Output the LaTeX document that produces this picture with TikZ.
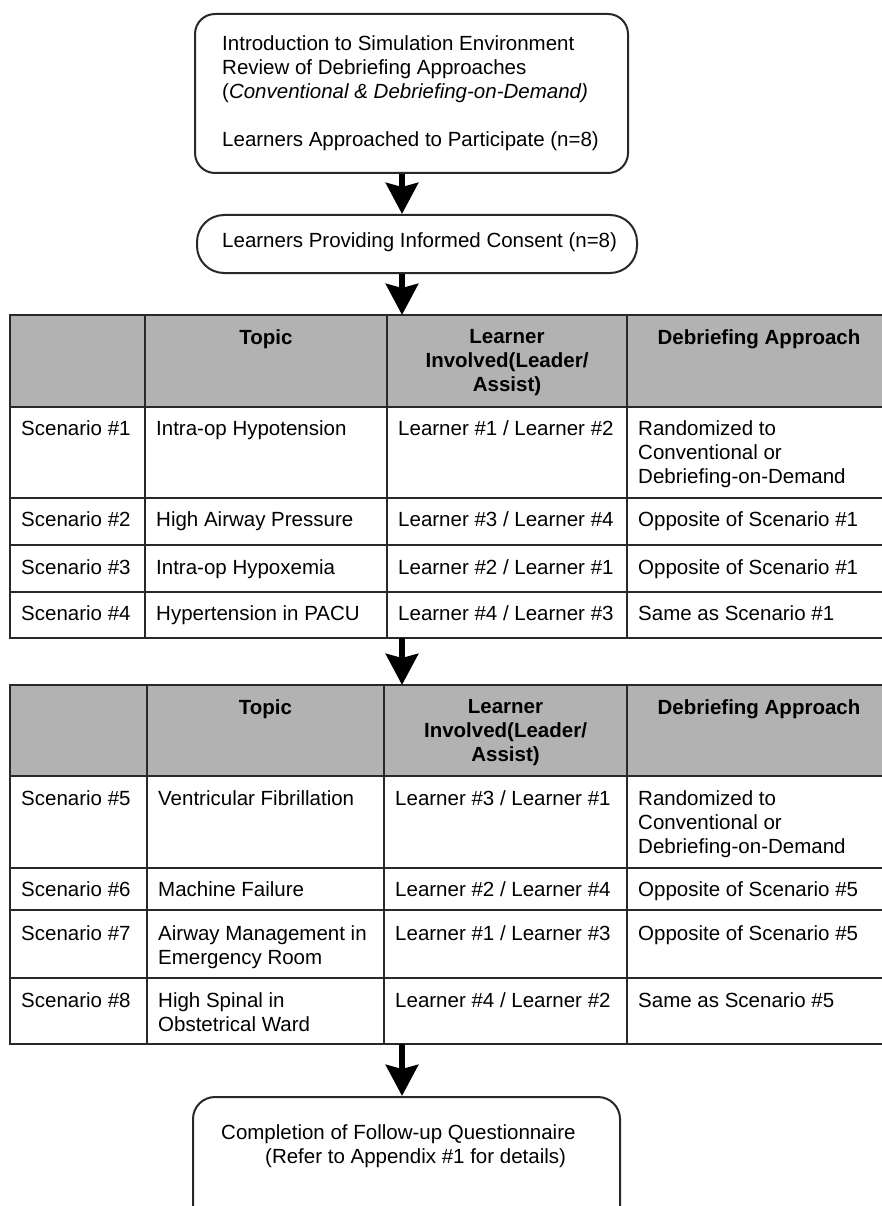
\documentclass[tikz,border=0pt]{standalone}
\usepackage{fontspec}
\setmainfont{Liberation Sans}
\usetikzlibrary{arrows.meta}
\definecolor{hdrgray}{RGB}{178,178,178}
\definecolor{linegray}{RGB}{40,40,40}
\begin{document}
\begin{tikzpicture}[x=1pt,y=-1pt,
  txt/.style={inner sep=0pt, text=black, font=\fontsize{20.5}{24}\selectfont},
  lt/.style={txt, anchor=north west, align=left},
  hd/.style={txt, anchor=north, align=center, font=\fontsize{20.5}{24}\selectfont\bfseries},
  rbox/.style={draw=linegray, line width=2pt, fill=white, inner sep=0pt},
  grid/.style={draw=linegray, line width=2.5pt, line cap=rect},
  frame/.style={inner sep=0pt, anchor=north west},
  flow/.style={line width=6.5pt, -{Stealth[length=31pt,width=32pt,inset=4pt]}},
]
\clip (0,0) rectangle (882,1206);
\fill[white] (0,0) rectangle (882,1206);
\coordinate (spine) at (402,0);

% ---------- top boxes ----------
\node[rbox, rounded corners=20pt, minimum width=433pt, minimum height=159pt] (intro) at (411.5,93.5) {};
\node[lt] (introtxt) at (222,35) {Introduction to Simulation Environment\\
Review of Debriefing Approaches\\
(\textit{Conventional \& Debriefing-on-Demand)}\\[24pt]
Learners Approached to Participate (n=8)};

\node[rbox, rounded corners=27pt, minimum width=440pt, minimum height=58pt] (consent) at (417,244) {};
\node[lt] (consenttxt) at (222,232) {Learners Providing Informed Consent (n=8)};

% ---------- table 1 ----------
\node[frame, minimum width=881pt, minimum height=323pt] (tab1) at (10,315) {};
\fill[hdrgray] (10,315) rectangle (891,407);
\foreach \y in {315,407,498,545,592,638} \draw[grid] (10,\y) -- (891,\y);
\foreach \x in {10,145,387,627} \draw[grid] (\x,315) -- (\x,638);

\node[hd] (h1a) at (266,329) {Topic};
\node[hd] (h1b) at (507,329) {Learner\\Involved(Leader/\\Assist)};
\node[hd] (h1c) at (759,329) {Debriefing Approach};

\node[lt] (s1) at (21,420) {Scenario \#1};
\node[lt] (s1t) at (156,420) {Intra-op Hypotension};
\node[lt] (s1l) at (398,420) {Learner \#1 / Learner \#2};
\node[lt] (s1d) at (638,420) {Randomized to\\Conventional or\\Debriefing-on-Demand};

\node[lt] (s2) at (21,511) {Scenario \#2};
\node[lt] (s2t) at (156,511) {High Airway Pressure};
\node[lt] (s2l) at (398,511) {Learner \#3 / Learner \#4};
\node[lt] (s2d) at (638,511) {Opposite of Scenario \#1};

\node[lt] (s3) at (21,559) {Scenario \#3};
\node[lt] (s3t) at (156,559) {Intra-op Hypoxemia};
\node[lt] (s3l) at (398,559) {Learner \#2 / Learner \#1};
\node[lt] (s3d) at (638,559) {Opposite of Scenario \#1};

\node[lt] (s4) at (21,605) {Scenario \#4};
\node[lt] (s4t) at (156,605) {Hypertension in PACU};
\node[lt] (s4l) at (398,605) {Learner \#4 / Learner \#3};
\node[lt] (s4d) at (638,605) {Same as Scenario \#1};

% ---------- table 2 ----------
\node[frame, minimum width=881pt, minimum height=359pt] (tab2) at (10,685) {};
\fill[hdrgray] (10,685) rectangle (891,776);
\foreach \y in {685,776,868,910,978,1044} \draw[grid] (10,\y) -- (891,\y);
\foreach \x in {10,147,384,627} \draw[grid] (\x,685) -- (\x,1044);

\node[hd] (h2a) at (265.5,699) {Topic};
\node[hd] (h2b) at (505.5,699) {Learner\\Involved(Leader/\\Assist)};
\node[hd] (h2c) at (759,699) {Debriefing Approach};

\node[lt] (s5) at (21,790) {Scenario \#5};
\node[lt] (s5t) at (158,790) {Ventricular Fibrillation};
\node[lt] (s5l) at (395,790) {Learner \#3 / Learner \#1};
\node[lt] (s5d) at (638,790) {Randomized to\\Conventional or\\Debriefing-on-Demand};

\node[lt] (s6) at (21,881) {Scenario \#6};
\node[lt] (s6t) at (158,881) {Machine Failure};
\node[lt] (s6l) at (395,881) {Learner \#2 / Learner \#4};
\node[lt] (s6d) at (638,881) {Opposite of Scenario \#5};

\node[lt] (s7) at (21,925) {Scenario \#7};
\node[lt] (s7t) at (158,925) {Airway Management in\\Emergency Room};
\node[lt] (s7l) at (395,925) {Learner \#1 / Learner \#3};
\node[lt] (s7d) at (638,925) {Opposite of Scenario \#5};

\node[lt] (s8) at (21,992) {Scenario \#8};
\node[lt] (s8t) at (158,992) {High Spinal in\\Obstetrical Ward};
\node[lt] (s8l) at (395,992) {Learner \#4 / Learner \#2};
\node[lt] (s8d) at (638,992) {Same as Scenario \#5};

% ---------- bottom box ----------
\node[rbox, rounded corners=22pt, minimum width=427pt, minimum height=160pt, anchor=north] (final) at (406.5,1096) {};
\node[lt] (finaltxt) at (221,1124) {Completion of Follow-up Questionnaire\\
\hspace*{44pt}(Refer to Appendix \#1 for details)};

% ---------- connectors ----------
\draw[flow] (intro.south -| spine) -- (consent.north -| spine);
\draw[flow] (consent.south -| spine) -- (tab1.north -| spine);
\draw[flow] (tab1.south -| spine) -- (tab2.north -| spine);
\draw[flow] (tab2.south -| spine) -- (final.north -| spine);
\end{tikzpicture}
\end{document}
